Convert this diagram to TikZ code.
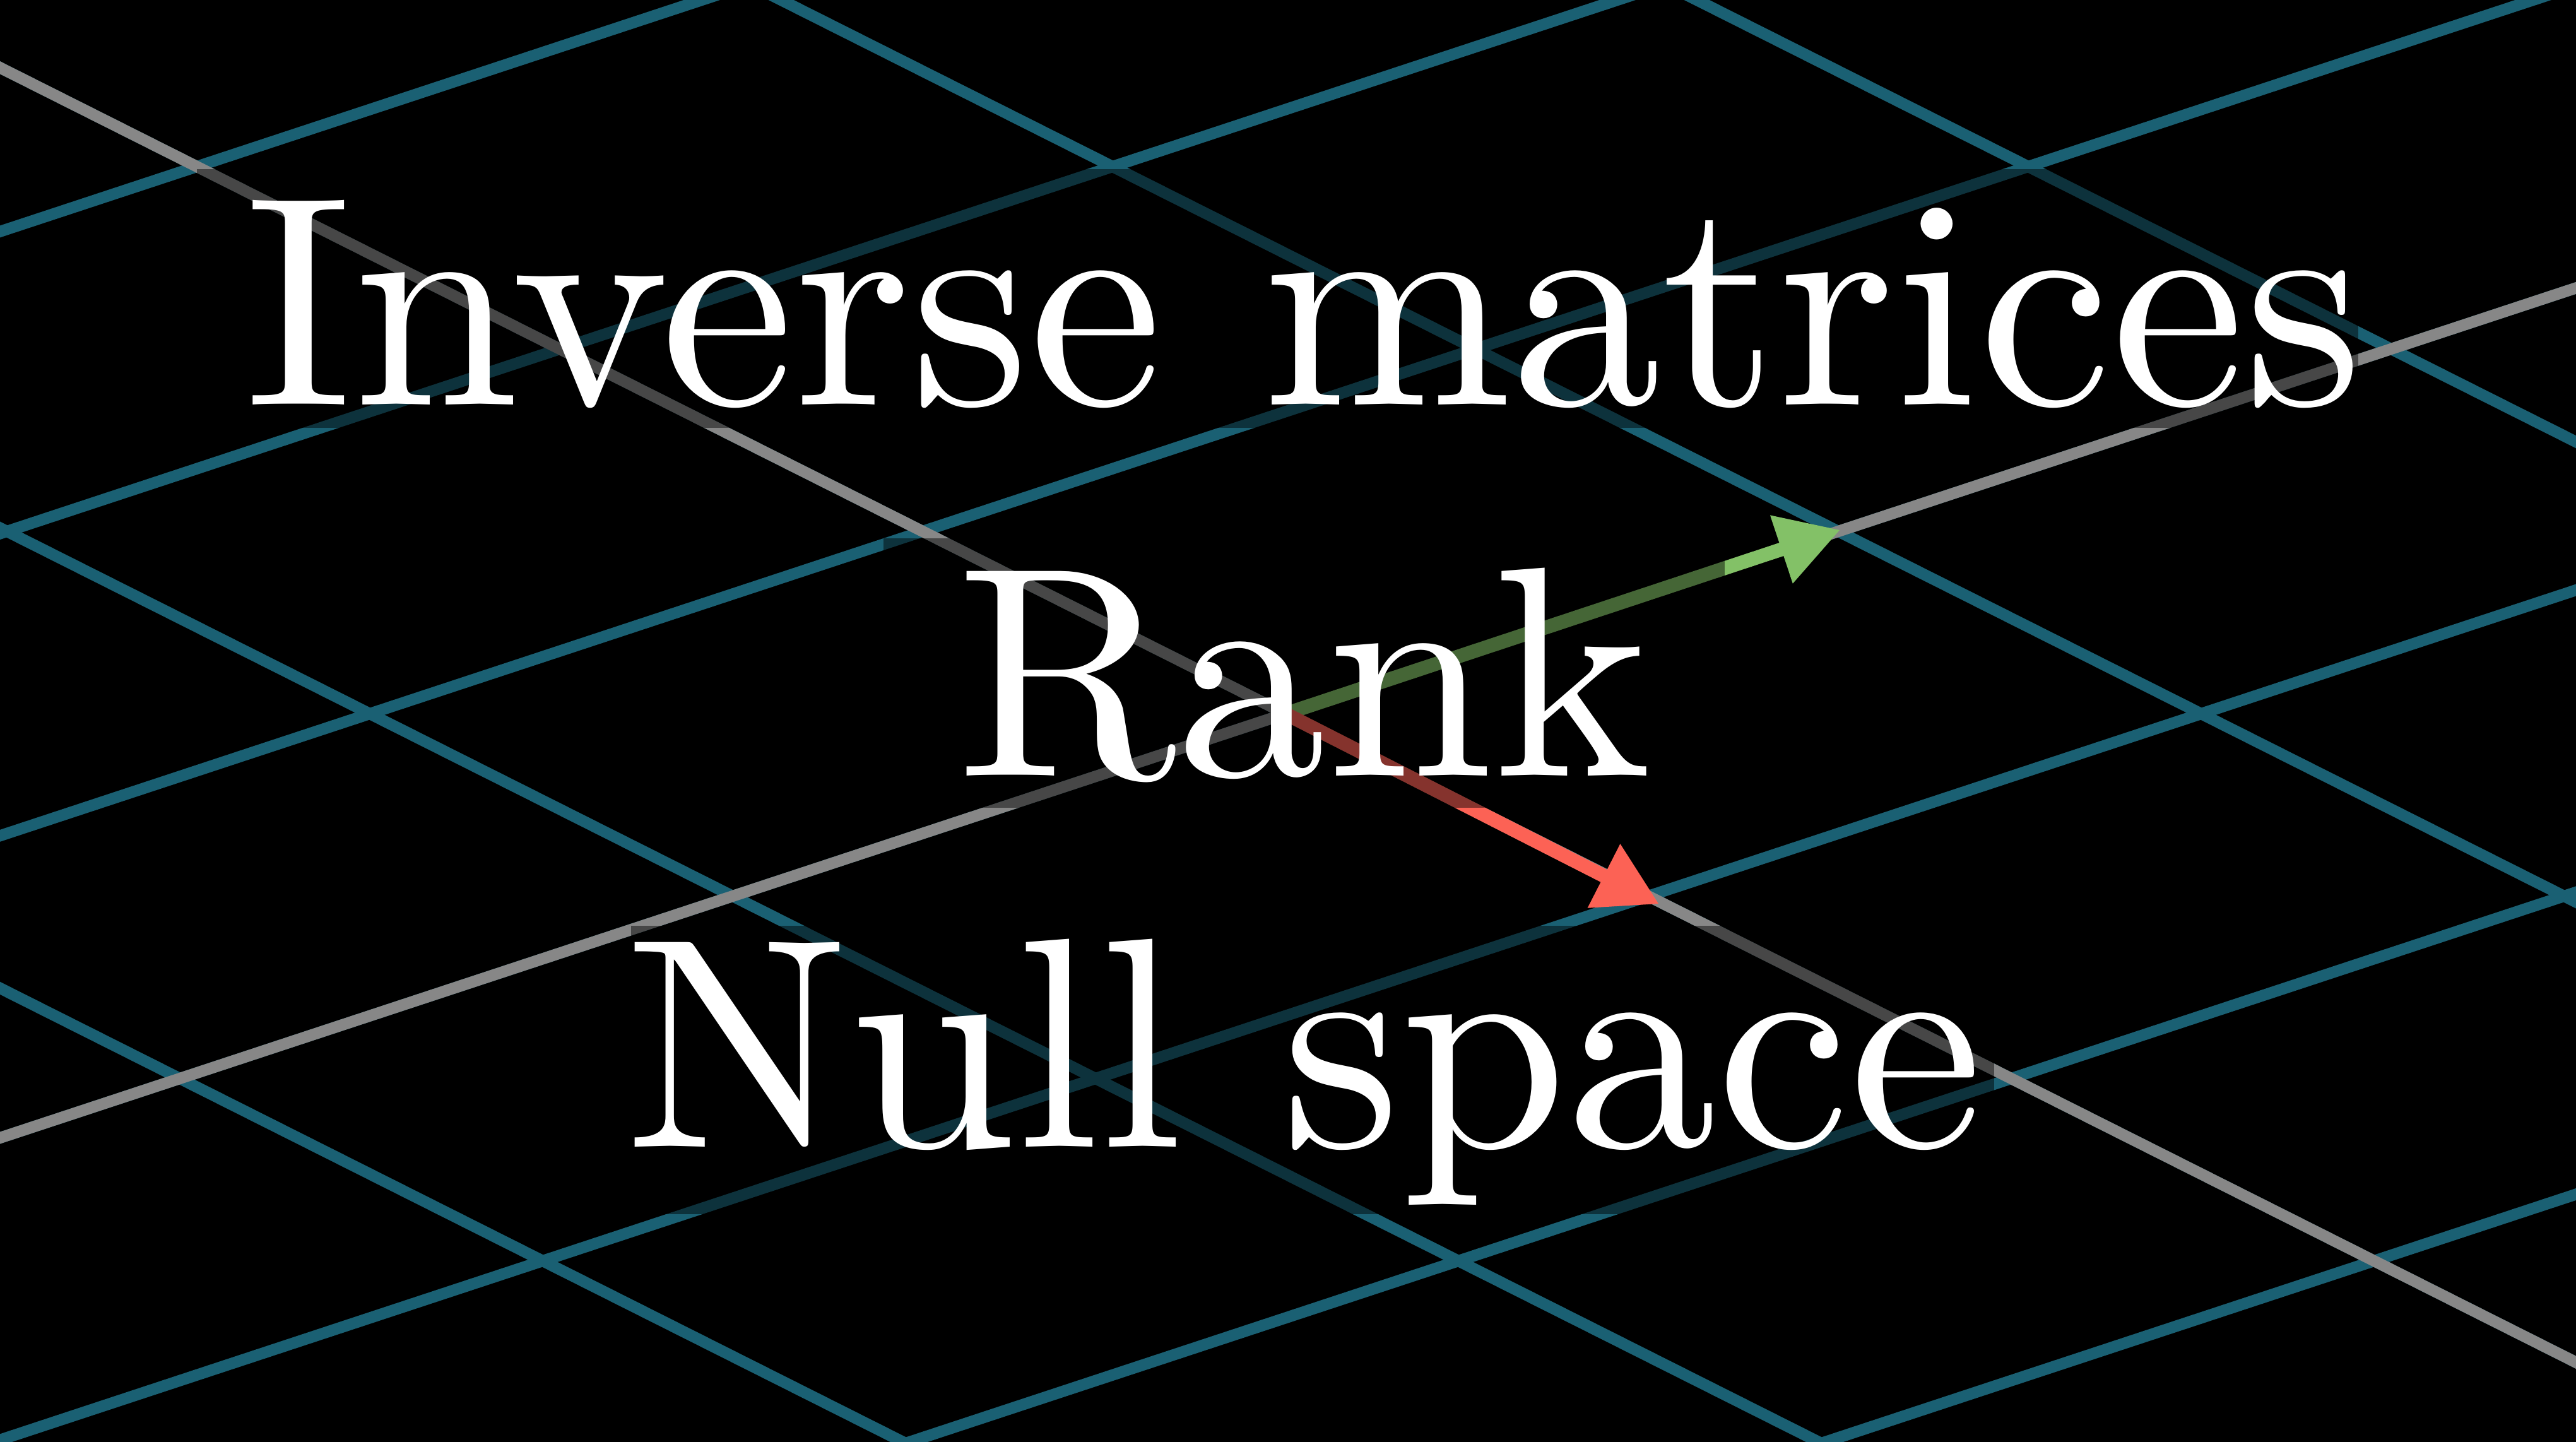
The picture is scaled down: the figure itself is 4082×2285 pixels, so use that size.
\documentclass[tikz,border=0pt]{standalone}
\usepackage{fontspec}
\setmainfont{lmroman10-regular.otf}
\usetikzlibrary{calc}
\definecolor{gridblue}{RGB}{26,96,115}
\definecolor{axisgrey}{RGB}{135,135,135}
\definecolor{vgreen}{HTML}{83C167}
\definecolor{vred}{HTML}{FC6255}
\begin{document}
\begin{tikzpicture}[x=0.01cm,y=-0.01cm,
  gridline/.style={draw=gridblue,line width=0.18cm},
  axisline/.style={draw=axisgrey,line width=0.18cm},
  vecline/.style={line width=0.22cm},
  dimbox/.style={fill=black,fill opacity=0.47},
  title/.style={text=white,font=\fontsize{135}{160}\selectfont,inner sep=0pt,anchor=base}]
\fill[black] (0,0) rectangle (4082,2285);
\useasboundingbox (0,0) rectangle (4082,2285);
\clip (0,0) rectangle (4082,2285);
% grid
\foreach \j in {-5,...,4} {
  \draw[gridline] ({2037+\j*575-6*876},{1131+\j*289+6*289}) -- ({2037+\j*575+6*876},{1131+\j*289-6*289});
}
\foreach \i in {-4,...,4} {
  \draw[gridline] ({2037+\i*876-6*575},{1131-\i*289-6*289}) -- ({2037+\i*876+6*575},{1131-\i*289+6*289});
}
% axes
\coordinate (O) at (2037,1131);
\coordinate (A1) at (-3219,2865);
\coordinate (A2) at (7293,-603);
\coordinate (B1) at (-1413,-603);
\coordinate (B2) at (5487,2865);
\draw[axisline] (A1) -- (A2);
\draw[axisline] (B1) -- (B2);
% vectors
\coordinate (G) at (2915,840);
\coordinate (R) at (2628,1432);
\coordinate (Gb) at ($(G)!0.97cm!(O)$);
\coordinate (Rb) at ($(R)!0.97cm!(O)$);
\draw[vgreen,vecline] (O) -- ($(G)!0.9cm!(O)$);
\fill[vgreen] (G) -- ($(Gb)!0.57cm!90:(G)$) -- ($(Gb)!0.57cm!-90:(G)$) -- cycle;
\draw[vred,vecline] (O) -- ($(R)!0.9cm!(O)$);
\fill[vred] (R) -- ($(Rb)!0.57cm!90:(R)$) -- ($(Rb)!0.57cm!-90:(R)$) -- cycle;
% dimming boxes behind the titles
\fill[dimbox] (312,268) rectangle (3737,678);
\fill[dimbox] (1400,853) rectangle (2733,1280);
\fill[dimbox] (1000,1467) rectangle (3160,1924);
% titles
\node[title] (t1) at (2066,641) {Inverse matrices};
\node[title] (t2) at (2066,1229) {Rank};
\node[title] (t3) at (2066,1817) {Null space};
\end{tikzpicture}
\end{document}
